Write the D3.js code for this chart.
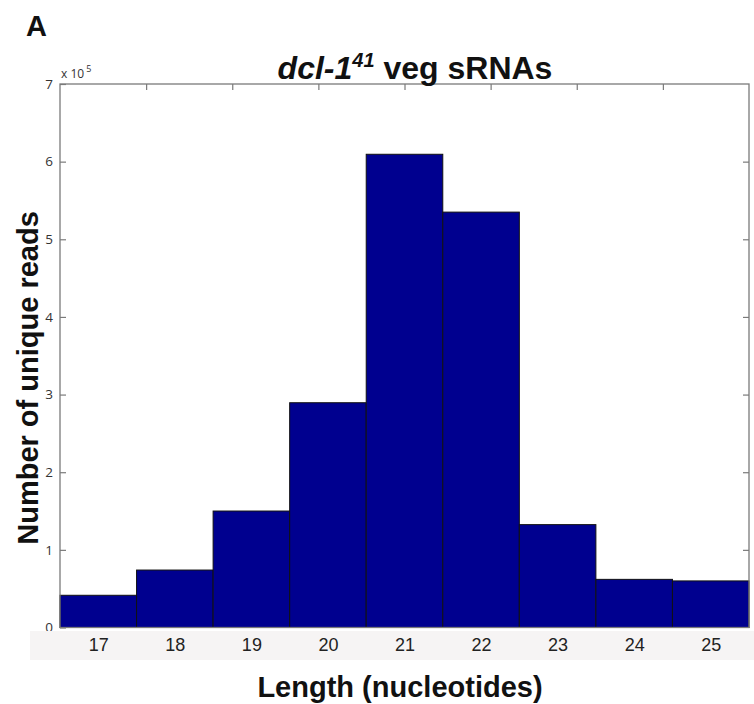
<!DOCTYPE html>
<html><head><meta charset="utf-8">
<script src="https://cdn.jsdelivr.net/npm/d3@7"></script>
<style>body{margin:0;background:#fff}</style>
</head><body>
<script>
const lengths = [17, 18, 19, 20, 21, 22, 23, 24, 25];
const reads = [0.415, 0.74, 1.50, 2.895, 6.095, 5.35, 1.325, 0.62, 0.60]; // x 10^5
const yTicks = [0, 1, 2, 3, 4, 5, 6, 7];
const topTicks = [1, 2, 3, 4, 5, 6, 7];

const W = 754, H = 704;
const svg = d3.select("body").append("svg").attr("width", W).attr("height", H);
const L = 60, R = 749, T = 84, B = 627.5;

const x = d3.scaleLinear().domain([16.5, 25.5]).range([L, R]);
const xTop = d3.scaleLinear().domain([0, 8]).range([L, R]);
const y = d3.scaleLinear().domain([0, 7]).range([B, T]);
const bw = x(1) - x(0);

// bars
svg.append("g").selectAll("rect").data(lengths).join("rect")
  .attr("x", d => x(d - 0.5)).attr("width", bw)
  .attr("y", (d, i) => y(reads[i])).attr("height", (d, i) => B - y(reads[i]))
  .attr("fill", "#00008f").attr("stroke", "#111").attr("stroke-width", 1);

// axes box
const axisCol = "#7a7a7a";
svg.append("rect").attr("x", L).attr("y", T).attr("width", R - L).attr("height", B - T)
  .attr("fill", "none").attr("stroke", axisCol).attr("stroke-width", 1.3);

// left y axis
const yl = svg.append("g").attr("transform", `translate(${L},0)`)
  .call(d3.axisLeft(y).tickValues(yTicks).tickSize(-6).tickPadding(7).tickFormat(d3.format("d")));
yl.select(".domain").remove();
yl.selectAll("line").attr("stroke", axisCol).attr("stroke-width", 1.2);
yl.selectAll("text").attr("font-family", "Open Sans, sans-serif").attr("font-size", 13.5).attr("fill", "#333");
// right mirrored ticks
const yr = svg.append("g").attr("transform", `translate(${R},0)`)
  .call(d3.axisRight(y).tickValues(yTicks.slice(1, -1)).tickSize(-6).tickFormat(""));
yr.select(".domain").remove();
yr.selectAll("line").attr("stroke", axisCol).attr("stroke-width", 1.2);
// top ticks
const xt = svg.append("g").attr("transform", `translate(0,${T})`)
  .call(d3.axisTop(xTop).tickValues(topTicks).tickSize(-6).tickFormat(""));
xt.select(".domain").remove();
xt.selectAll("line").attr("stroke", axisCol).attr("stroke-width", 1.2);

// exponent label
const ex = svg.append("text").attr("x", 61).attr("y", 78)
  .attr("font-family", "Open Sans, sans-serif").attr("font-size", 12).attr("fill", "#333");
ex.append("tspan").text("x 10");
ex.append("tspan").attr("dx", 2).attr("dy", -6).attr("font-size", 9).text("5");

// grey band with x tick labels
svg.append("rect").attr("x", 30).attr("y", 631).attr("width", W - 30).attr("height", 29).attr("fill", "#f6f4f4");
const xb = svg.append("g").attr("transform", `translate(0,${B})`)
  .call(d3.axisBottom(x).tickValues(lengths).tickSize(0).tickPadding(11).tickFormat(d3.format("d")));
xb.select(".domain").remove();
xb.selectAll("text").attr("font-family", "Liberation Sans, Arial, sans-serif").attr("font-size", 18).attr("fill", "#222");

// title
const title = svg.append("text").attr("x", 415).attr("y", 79).attr("text-anchor", "middle")
  .attr("font-family", "Liberation Sans, Arial, sans-serif").attr("font-weight", "bold").attr("font-size", 32).attr("fill", "#111");
title.append("tspan").attr("font-style", "italic").text("dcl-1");
title.append("tspan").attr("font-style", "italic").attr("font-size", 20).attr("dy", -12).text("41");
title.append("tspan").attr("dy", 12).text(" veg sRNAs");

// panel letter
svg.append("text").attr("x", 26).attr("y", 36).attr("font-family", "Liberation Sans, Arial, sans-serif")
  .attr("font-weight", "bold").attr("font-size", 29).attr("fill", "#111").text("A");

// axis titles
svg.append("text").attr("x", 400).attr("y", 697).attr("text-anchor", "middle")
  .attr("font-family", "Liberation Sans, Arial, sans-serif").attr("font-weight", "bold").attr("font-size", 29).attr("fill", "#111")
  .text("Length (nucleotides)");
svg.append("text").attr("transform", "translate(38,378) rotate(-90)").attr("text-anchor", "middle")
  .attr("font-family", "Liberation Sans, Arial, sans-serif").attr("font-weight", "bold").attr("font-size", 29).attr("fill", "#111")
  .text("Number of unique reads");
</script>
</body></html>
